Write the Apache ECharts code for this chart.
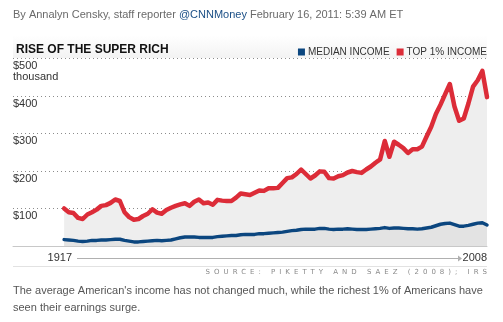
<!DOCTYPE html>
<html>
<head>
<meta charset="utf-8">
<script src="https://cdn.jsdelivr.net/npm/echarts@6/dist/echarts.min.js"></script>
<style>
  html, body { margin: 0; padding: 0; background: #fff; }
  #wrap { position: relative; width: 503px; height: 322px; }
  #chart { width: 503px; height: 322px; }
  #source {
    position: absolute; right: 16px; top: 268px;
    font: 7px "DejaVu Sans", sans-serif; letter-spacing: 4px;
    color: #8a8a8a; white-space: nowrap; margin-right: -4px;
  }
</style>
</head>
<body>
<div id="wrap">
  <div id="chart"></div>
  <div id="source">SOURCE: PIKETTY AND SAEZ (2008); IRS</div>
</div>
<script>
// Years covered, 1917 through 2008
const years = [
  1917, 1918, 1919, 1920, 1921, 1922, 1923, 1924, 1925, 1926,
  1927, 1928, 1929, 1930, 1931, 1932, 1933, 1934, 1935, 1936,
  1937, 1938, 1939, 1940, 1941, 1942, 1943, 1944, 1945, 1946,
  1947, 1948, 1949, 1950, 1951, 1952, 1953, 1954, 1955, 1956,
  1957, 1958, 1959, 1960, 1961, 1962, 1963, 1964, 1965, 1966,
  1967, 1968, 1969, 1970, 1971, 1972, 1973, 1974, 1975, 1976,
  1977, 1978, 1979, 1980, 1981, 1982, 1983, 1984, 1985, 1986,
  1987, 1988, 1989, 1990, 1991, 1992, 1993, 1994, 1995, 1996,
  1997, 1998, 1999, 2000, 2001, 2002, 2003, 2004, 2005, 2006,
  2007, 2008
];

// Average income of the top 1%, thousands of dollars
const top1Income = [
  100, 90, 88, 75, 72, 84, 90, 97, 107, 109,
  115, 124, 120, 90, 77, 70, 72, 80, 86, 98,
  89, 86, 96, 102, 107, 111, 114, 107, 118, 124,
  114, 116, 110, 123, 121, 120, 120, 129, 140, 138,
  136, 142, 148, 147, 154, 154, 155, 168, 181, 183,
  192, 204, 192, 180, 188, 199, 198, 181, 180, 186,
  189, 196, 200, 197, 195, 204, 212, 222, 231, 280,
  238, 278, 270, 261, 248, 258, 258, 265, 292, 318,
  352, 377, 405, 432, 372, 334, 340, 380, 425, 442,
  467, 397
];

// Median income, thousands of dollars
const medianIncome = [
  17, 16, 15, 13, 12, 13, 15, 15, 16, 16,
  17, 18, 18, 15, 13, 11, 11, 12, 13, 14,
  15, 14, 15, 16, 19, 22, 24, 24, 24, 23,
  23, 23, 23, 25, 26, 27, 28, 28, 30, 31,
  31, 31, 33, 33, 34, 35, 36, 37, 39, 41,
  42, 44, 45, 45, 45, 47, 47, 45, 44, 45,
  45, 46, 45, 44, 44, 44, 45, 46, 47, 49,
  47, 48, 48, 47, 46, 46, 45, 46, 48, 50,
  54, 58, 60, 61, 57, 53, 53, 55, 58, 61,
  62, 56
];

const seriesNames = ['MEDIAN INCOME', 'TOP 1% INCOME'];
const yTicks = [0, 100, 200, 300, 400, 500];
const yearLabels = ['1917', '2008'];

const RED = '#dc2c38';
const BLUE = '#0b467f';
const FONT = 'Liberation Sans, Arial, sans-serif';

const chart = echarts.init(document.getElementById('chart'), null, { renderer: 'canvas' });

const toPairs = vals => years.map((y, i) => [y, vals[i]]);

chart.setOption({
  animation: false,
  backgroundColor: '#fff',
  title: {
    text: 'RISE OF THE SUPER RICH',
    left: 11, top: 39,
    textStyle: { fontFamily: FONT, fontSize: 12, fontWeight: 'bold', color: '#111' }
  },
  legend: {
    data: seriesNames,
    right: 11, top: 42,
    icon: 'rect', itemWidth: 7, itemHeight: 7, itemGap: 7,
    textStyle: { fontFamily: FONT, fontSize: 10, color: '#333', padding: [1, 0, 0, -2] }
  },
  grid: { left: 13, right: 16, top: 58.5, bottom: 76 },
  xAxis: {
    type: 'value',
    min: 1906, max: 2008,
    axisLine: { show: true, lineStyle: { color: '#c8c8c8', width: 1 } },
    axisTick: { show: false },
    axisLabel: { show: false },
    splitLine: { show: false }
  },
  yAxis: {
    type: 'value',
    min: yTicks[0], max: yTicks[yTicks.length - 1], interval: 100,
    axisLine: { show: false },
    axisTick: { show: false },
    splitLine: { show: true, lineStyle: { color: '#8c8c8c', type: [1, 3], width: 1 } },
    axisLabel: {
      inside: true, margin: 0, align: 'left', verticalAlign: 'top',
      padding: [2, 0, 0, 0],
      fontFamily: FONT, fontSize: 11, lineHeight: 11, color: '#333',
      formatter: v => v === 0 ? '' : (v === 500 ? '$' + v + '\nthousand' : '$' + v)
    }
  },
  series: [
    {
      name: 'TOP 1% INCOME', type: 'line', data: toPairs(top1Income),
      symbol: 'none', z: 2,
      lineStyle: { color: RED, width: 4.5, cap: 'round', join: 'round' },
      itemStyle: { color: RED },
      areaStyle: { color: '#eeeeee', opacity: 1 }
    },
    {
      name: 'MEDIAN INCOME', type: 'line', data: toPairs(medianIncome),
      symbol: 'none', z: 3,
      lineStyle: { color: BLUE, width: 3.5, cap: 'round', join: 'round' },
      itemStyle: { color: BLUE },
      areaStyle: { color: '#e3e3e3', opacity: 1 }
    }
  ],
  graphic: [
    // header band
    {
      type: 'rect', z: -1, silent: true,
      shape: { x: 13, y: 35, width: 474, height: 23 },
      style: {
        fill: new echarts.graphic.LinearGradient(0, 0, 0, 1, [
          { offset: 0, color: '#ffffff' }, { offset: 1, color: '#f3f3f3' }
        ])
      }
    },
    // byline
    {
      type: 'text', left: 13, top: 9,
      style: {
        text: '{a|By Annalyn Censky, staff reporter }{b|@CNNMoney}{a| February 16, 2011: 5:39 AM ET}',
        rich: {
          a: { fontFamily: FONT, fontSize: 11, fill: '#6a6a6a' },
          b: { fontFamily: FONT, fontSize: 11, fill: '#1b4f86' }
        }
      }
    },
    // time span under the plot
    {
      type: 'text', style: { text: yearLabels[0], x: 72, y: 258, align: 'right', verticalAlign: 'middle',
        font: '11px ' + FONT, fill: '#333' }
    },
    {
      type: 'line', shape: { x1: 77, y1: 258.5, x2: 459, y2: 258.5 },
      style: { stroke: '#b0b0b0', lineWidth: 1 }
    },
    {
      type: 'polygon', shape: { points: [[458, 255.5], [462, 258.5], [458, 261.5]] },
      style: { fill: '#b0b0b0' }
    },
    {
      type: 'text', style: { text: yearLabels[1], x: 487, y: 258, align: 'right', verticalAlign: 'middle',
        font: '11px ' + FONT, fill: '#333' }
    },
    {
      type: 'line', shape: { x1: 13, y1: 266.5, x2: 487, y2: 266.5 },
      style: { stroke: '#e2e2e2', lineWidth: 1 }
    },
    // caption
    {
      type: 'text', left: 13, top: 282,
      style: {
        text: 'The average American\'s income has not changed much, while the richest 1% of Americans have\nseen their earnings surge.',
        font: '11px ' + FONT, fill: '#555', lineHeight: 17
      }
    }
  ]
});
</script>
</body>
</html>
